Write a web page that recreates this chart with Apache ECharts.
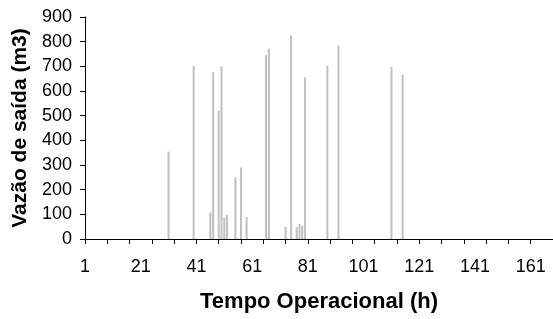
<!DOCTYPE html>
<html lang="pt-BR">
<head>
<meta charset="utf-8">
<script src="https://cdn.jsdelivr.net/npm/echarts@6/dist/echarts.min.js"></script>
<style>
  html, body { margin: 0; padding: 0; background: #fff; }
  #chart { width: 553px; height: 319px; }
</style>
</head>
<body>
<div id="chart"></div>
<script>
// horas de operação (eixo x vai de 1 a 169)
var horas = [];
for (var h = 1; h <= 169; h++) horas.push(String(h));

// horas com vazão registrada e o valor lido (m3)
var horasComVazao = [31, 40, 46, 47, 49, 50, 51, 52, 55, 57, 59, 66, 67, 73, 75, 77, 78, 79, 80, 88, 92, 111, 115];
var vazao = [354, 702, 108, 676, 520, 700, 87, 98, 251, 290, 89, 745, 771, 49, 826, 49, 61, 54, 655, 703, 784, 698, 666];

var yTicks = { min: 0, max: 900, step: 100 };

var serie = horas.map(function () { return 0; });
horasComVazao.forEach(function (hr, i) { serie[hr - 1] = vazao[i]; });

var FONT = '"Liberation Sans", Arial, sans-serif';
var chart = echarts.init(document.getElementById('chart'), null, { renderer: 'canvas' });
chart.setOption({
  animation: false,
  grid: { left: 85, right: 0, top: 17, bottom: 80, containLabel: false },
  xAxis: {
    type: 'category',
    data: horas,
    boundaryGap: false,
    name: 'Tempo Operacional (h)',
    nameLocation: 'middle',
    nameGap: 52,
    nameTextStyle: { fontFamily: FONT, fontSize: 22, fontWeight: 'bold', color: '#000' },
    axisLine: { lineStyle: { color: '#000', width: 1 } },
    axisTick: { alignWithLabel: true, length: 5, interval: function (i) { return i % 8 === 0; }, lineStyle: { color: '#000' } },
    axisLabel: { interval: function (i) { return i % 20 === 0; }, fontFamily: FONT, fontSize: 18, color: '#000', margin: 19 },
    splitLine: { show: false }
  },
  yAxis: {
    type: 'value',
    min: yTicks.min,
    max: yTicks.max,
    interval: yTicks.step,
    name: 'Vazão de saída (m3)',
    nameLocation: 'middle',
    nameGap: 50,
    nameTextStyle: { fontFamily: FONT, fontSize: 21, fontWeight: 'bold', color: '#000' },
    axisLine: { show: true, lineStyle: { color: '#000', width: 1 } },
    axisTick: { show: true, length: 5, lineStyle: { color: '#000' } },
    axisLabel: { fontFamily: FONT, fontSize: 18, color: '#000', margin: 13 },
    splitLine: { show: false }
  },
  series: [{
    type: 'bar',
    data: serie,
    barWidth: 2,
    itemStyle: { color: '#c0c0c0' }
  }]
});
</script>
</body>
</html>
